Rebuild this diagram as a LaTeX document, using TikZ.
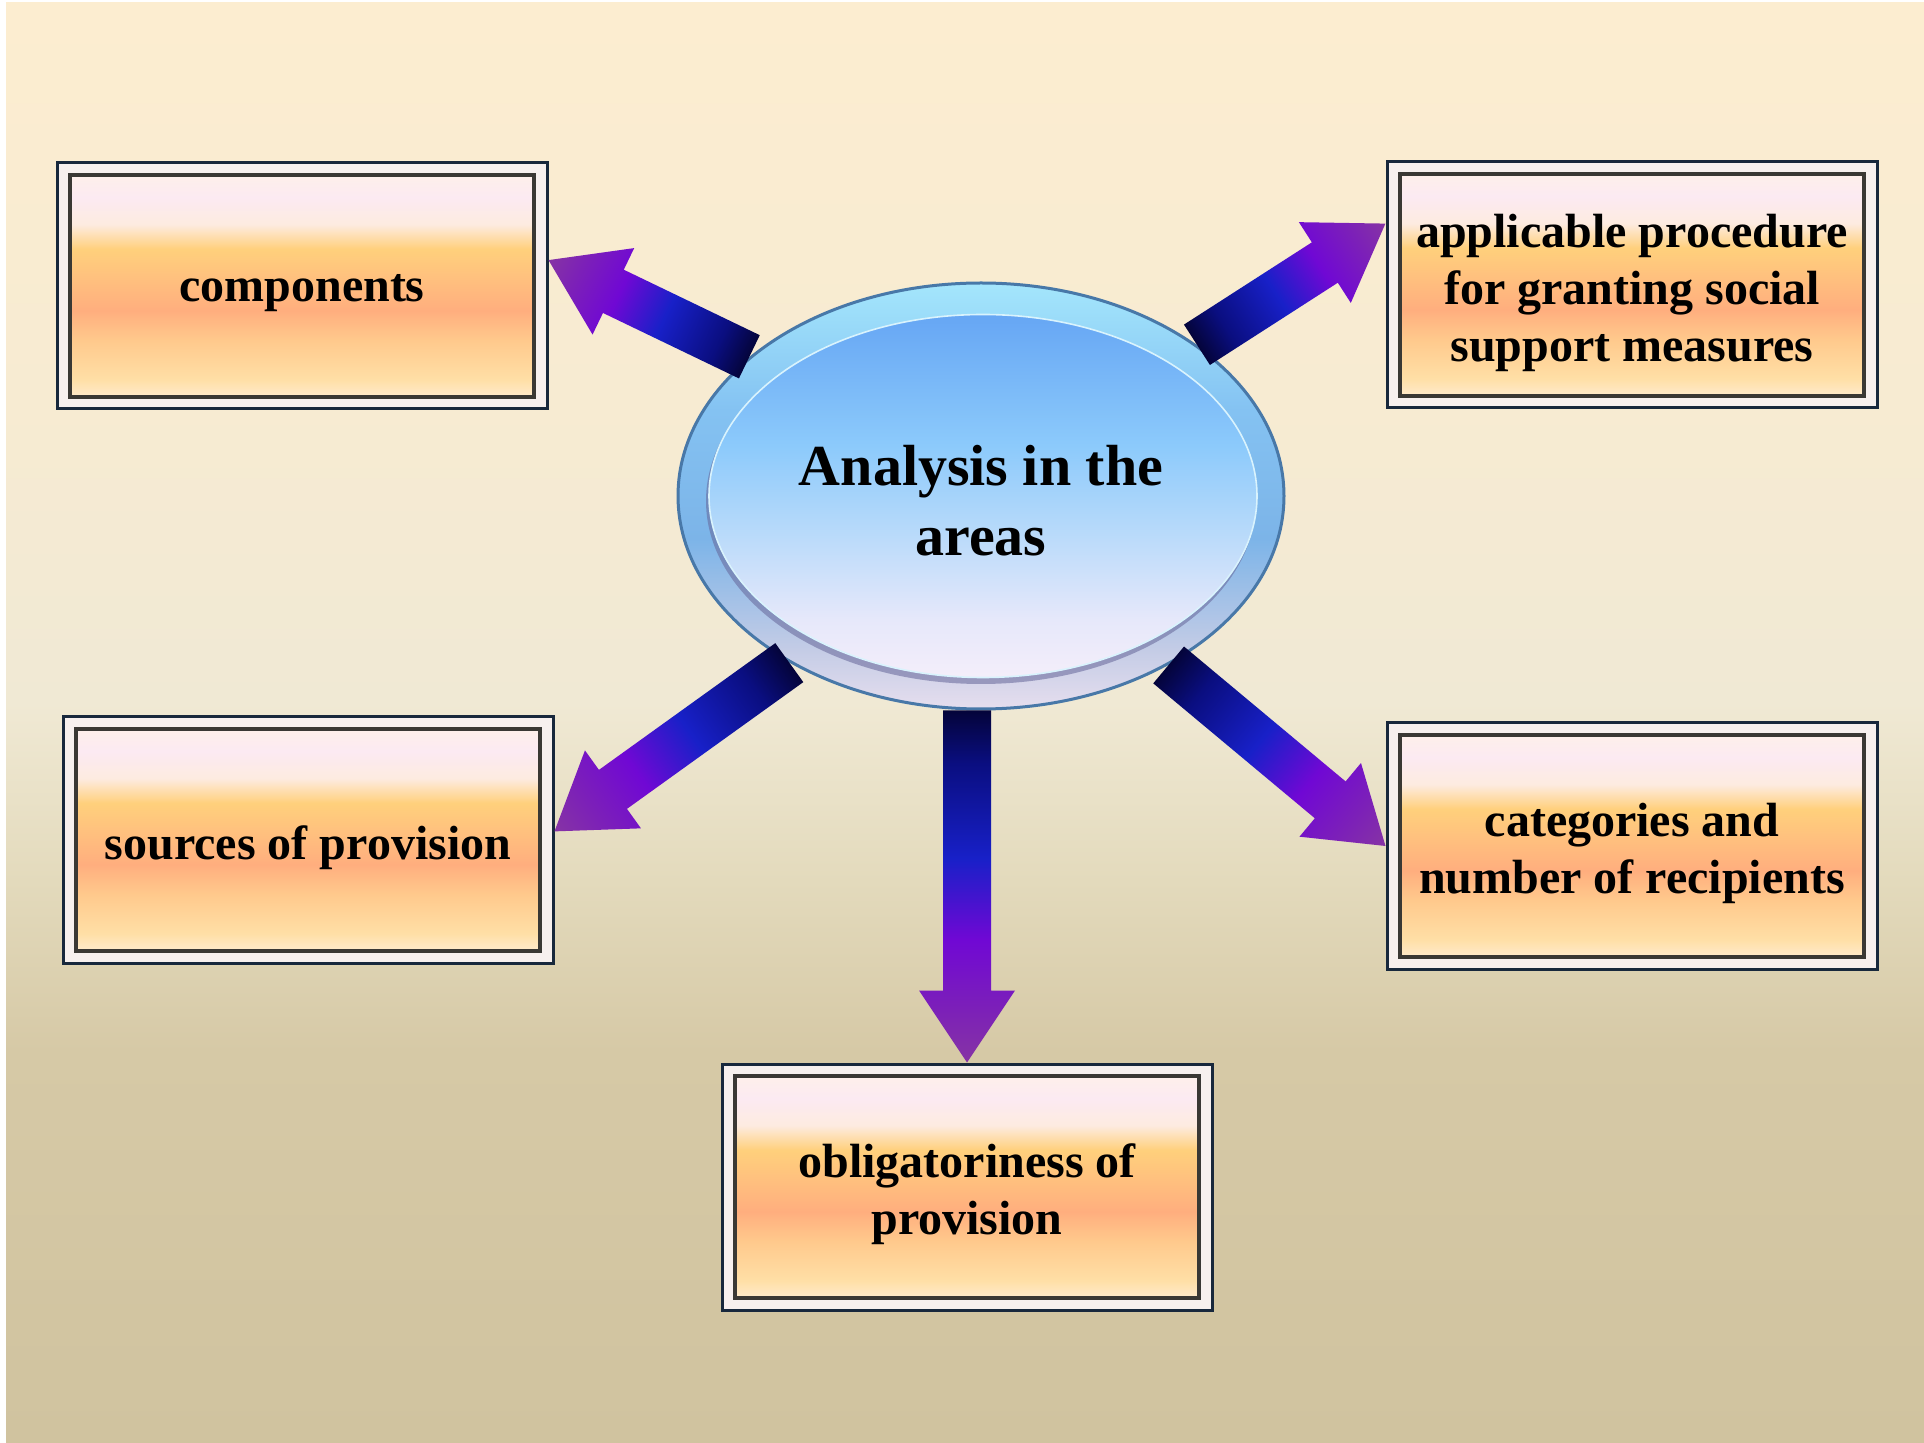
\documentclass[tikz,border=0pt]{standalone}
\usepackage{fontspec}
\setmainfont{Liberation Serif}
\usetikzlibrary{calc,shapes.geometric}

% colours
\definecolor{bgtop}{HTML}{FCEDD0}
\definecolor{bgupper}{HTML}{F7EBD2}
\definecolor{bgmida}{HTML}{F0E9D4}
\definecolor{bgmidb}{HTML}{E3DABC}
\definecolor{bgmidc}{HTML}{D6C9A6}
\definecolor{bgbot}{HTML}{D0C39F}
\definecolor{boxedge}{HTML}{FFF2E6}
\definecolor{boxpink}{HTML}{FCEAF2}
\definecolor{boxwhite}{HTML}{FDEBE0}
\definecolor{boxgold}{HTML}{FFD07C}
\definecolor{boxmid}{HTML}{FFC07E}
\definecolor{boxsalmon}{HTML}{FFAE7E}
\definecolor{boxpeach}{HTML}{FFC98C}
\definecolor{boxlow}{HTML}{FFDFA6}
\definecolor{boxgap}{HTML}{F7F0EE}
\definecolor{boxnavy}{HTML}{18283C}
\definecolor{boxline}{HTML}{3A3834}
\definecolor{arrdark}{HTML}{04043A}
\definecolor{arrnavy}{HTML}{0A0E80}
\definecolor{arrblue}{HTML}{1820C8}
\definecolor{arrviolet}{HTML}{7008D4}
\definecolor{arrpurple}{HTML}{7C20B8}
\definecolor{arrtip}{HTML}{8634A4}
\definecolor{ringtop}{HTML}{A4E6FC}
\definecolor{ringside}{HTML}{84C2F2}
\definecolor{ringmid}{HTML}{7CB4E8}
\definecolor{ringlow}{HTML}{C4CCE6}
\definecolor{ringbot}{HTML}{E6DEEE}
\definecolor{ringline}{HTML}{4878A8}
\definecolor{intop}{HTML}{66A6F4}
\definecolor{inmid}{HTML}{8CCAFB}
\definecolor{inpale}{HTML}{B8DAFA}
\definecolor{inlow}{HTML}{E6E8FA}
\definecolor{inbot}{HTML}{F4EEFA}

% shadings
\pgfdeclareverticalshading{bgshade}{100bp}{color(0bp)=(bgbot); color(25bp)=(bgbot); color(38.6bp)=(bgmidc); color(44.5bp)=(bgmidb); color(50.7bp)=(bgmida); color(61.1bp)=(bgupper); color(75bp)=(bgtop); color(100bp)=(bgtop)}
\pgfdeclareverticalshading{boxshade}{100bp}{color(0bp)=(boxedge); color(25bp)=(boxedge); color(31bp)=(boxlow); color(39bp)=(boxpeach); color(45bp)=(boxsalmon); color(51.5bp)=(boxmid); color(57.5bp)=(boxgold); color(62.5bp)=(boxwhite); color(68bp)=(boxpink); color(75bp)=(boxedge); color(100bp)=(boxedge)}
\pgfdeclarehorizontalshading{arrowshade}{100bp}{color(0bp)=(arrdark); color(25bp)=(arrdark); color(32.5bp)=(arrnavy); color(46bp)=(arrblue); color(57.5bp)=(arrviolet); color(67.5bp)=(arrpurple); color(75bp)=(arrtip); color(100bp)=(arrtip)}
\pgfdeclareverticalshading{ringshade}{100bp}{color(0bp)=(ringbot); color(25bp)=(ringbot); color(32bp)=(ringlow); color(45bp)=(ringmid); color(60bp)=(ringside); color(75bp)=(ringtop); color(100bp)=(ringtop)}
\pgfdeclareverticalshading{innershade}{100bp}{color(0bp)=(inbot); color(25bp)=(inbot); color(33bp)=(inlow); color(45bp)=(inpale); color(57bp)=(inmid); color(75bp)=(intop); color(100bp)=(intop)}

% block arrow from #1 to #2
\newcommand\areaarrow[2]{%
  \path let \p1=($(#2)-(#1)$) in
    \pgfextra{\pgfmathsetmacro\tmpa{atan2(\y1,\x1)}\xdef\arrang{\tmpa}%
      \pgfmathsetmacro\tmpl{veclen(\x1,\y1)}\xdef\arrlen{\tmpl}};
  \begin{scope}[transform canvas={shift={(#1)},rotate=\arrang}]
    \shade[shading=arrowshade] (0pt,-12pt) -- ({\arrlen pt-36pt},-12pt) -- ({\arrlen pt-36pt},-24pt)
      -- (\arrlen pt,0pt) -- ({\arrlen pt-36pt},24pt) -- ({\arrlen pt-36pt},12pt) -- (0pt,12pt) -- cycle;
  \end{scope}}

\begin{document}
\begin{tikzpicture}[x=0.5pt,y=-0.5pt,
    areabox/.style={rectangle, minimum width=245pt, minimum height=123pt, inner sep=0pt,
      draw=boxnavy, line width=1.5pt, fill=boxgap,
      path picture={\shade[shading=boxshade, draw=boxline, line width=1.6pt]
        ([shift={(6.5pt,-6pt)}]path picture bounding box.north west) rectangle
        ([shift={(-6.5pt,6pt)}]path picture bounding box.south east);}},
    boxtext/.style={align=center, inner sep=0pt, yshift=-3.8pt,
      font=\fontsize{24}{28.5}\selectfont\bfseries},
    hub/.style={ellipse, minimum width=303pt, minimum height=213pt, inner sep=0pt,
      shade, shading=ringshade, draw=ringline, line width=1.5pt,
      path picture={
        \fill[gray!80!blue, opacity=.55] ([yshift=-2.5pt]path picture bounding box.center) ellipse [x radius=137.5pt, y radius=91.5pt];
        \shade[shading=innershade, draw=white!85!cyan, line width=.8pt] ([xshift=1pt]path picture bounding box.center) ellipse [x radius=137pt, y radius=90.75pt];}},
    hubtext/.style={align=center, inner sep=0pt, yshift=-2.2pt,
      font=\fontsize{29}{35}\selectfont\bfseries}]

\useasboundingbox (0,0) rectangle (1924,1443);
\fill[white] (0,0) rectangle (1924,1443);
\shade[shading=bgshade] (6,3) rectangle (1924,1443);

\node[hub] (centre) at (981,496) {};
\node[hubtext] at (centre.center) {Analysis in the\\areas};

\node[areabox] (comp) at (302,286) {};
\node[boxtext] at (comp.center) {components};
\node[areabox] (appl) at (1632,285) {};
\node[boxtext] at (appl.center) {applicable procedure\\for granting social\\support measures};
\node[areabox] (srcs) at (308,840) {};
\node[boxtext] at (srcs.center) {sources of provision};
\node[areabox] (catg) at (1632,846) {};
\node[boxtext] at (catg.center) {categories and\\number of recipients};
\node[areabox] (oblg) at (967,1187) {};
\node[boxtext] at (oblg.center) {obligatoriness of\\provision};

\areaarrow{centre.149}{comp.6}
\areaarrow{centre.35}{appl.166}
\areaarrow{centre.221}{srcs.2.5}
\areaarrow{centre.318}{catg.west}
\areaarrow{oblg.north |- centre.south}{oblg.north}
\end{tikzpicture}
\end{document}
